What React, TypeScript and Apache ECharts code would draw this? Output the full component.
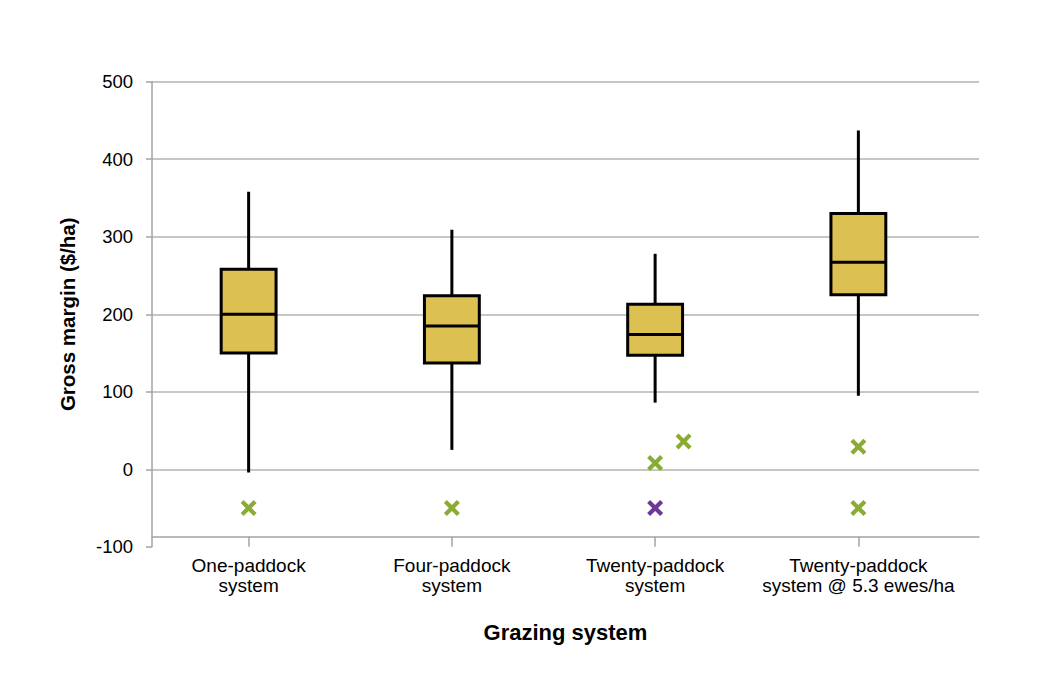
import React, { useEffect, useRef } from "react";
import * as echarts from "echarts";

// ---- data ----
const CATEGORIES = [
  "One-paddock\nsystem",
  "Four-paddock\nsystem",
  "Twenty-paddock\nsystem",
  "Twenty-paddock\nsystem @ 5.3 ewes/ha",
];
const WHISKER_LOW = [-4, 25, 86, 95];
const Q1 = [150, 137, 147, 225];
const MEDIAN = [200, 185, 174, 267];
const Q3 = [258, 224, 213, 330];
const WHISKER_HIGH = [358, 309, 278, 437];
// [category position, value]
const GREEN_OUTLIERS = [
  [0, -50],
  [1, -50],
  [2, 8],
  [2.14, 36],
  [3, 29],
  [3, -50],
];
const PURPLE_OUTLIERS = [[2, -50]];
const Y_MIN = -100;
const Y_MAX = 500;
const Y_STEP = 100;

const X_AXIS_TITLE = "Grazing system";
const Y_AXIS_TITLE = "Gross margin ($/ha)";

// ---- styles ----
const FONT = "'Liberation Sans', Arial, Helvetica, sans-serif";
const AXIS_GRAY = "#a3a3a3";
const GRID_GRAY = "#b3b3b3";
const BOX_FILL = "#dcc152";
const GREEN = "#8aab35";
const PURPLE = "#6b3a96";
const X_SYMBOL =
  "path://M0,2.6 L2.6,0 L7,4.4 L11.4,0 L14,2.6 L9.6,7 L14,11.4 L11.4,14 L7,9.6 L2.6,14 L0,11.4 L4.4,7 Z";

export default function App() {
  const ref = useRef<HTMLDivElement>(null);

  useEffect(() => {
    if (!ref.current) return;
    const chart = echarts.init(ref.current, null, { renderer: "svg" });
    const boxData = CATEGORIES.map((_, i) => [
      i,
      WHISKER_LOW[i],
      Q1[i],
      MEDIAN[i],
      Q3[i],
      WHISKER_HIGH[i],
    ]);

    const gridCommon = {
      top: 81.7,
      bottom: 136.2,
      containLabel: false,
      outerBoundsMode: "none",
    };

    const option: any = {
      animation: false,
      backgroundColor: "#ffffff",
      grid: [
        { ...gridCommon, left: 152, right: 61 },
        { ...gridCommon, left: 147, right: 80 },
      ],
      xAxis: [
        {
          gridIndex: 0,
          type: "value",
          min: 0,
          max: 1,
          offset: -10,
          axisLine: {
            show: true,
            onZero: false,
            lineStyle: { color: AXIS_GRAY, width: 1.5 },
          },
          axisTick: { show: false },
          axisLabel: { show: false },
          splitLine: { show: false },
          name: X_AXIS_TITLE,
          nameLocation: "middle",
          nameGap: 85,
          nameTextStyle: {
            fontFamily: FONT,
            fontSize: 22,
            fontWeight: "bold",
            color: "#000",
          },
        },
        {
          gridIndex: 1,
          type: "category",
          data: CATEGORIES,
          offset: -10,
          axisLine: { show: false, onZero: false },
          axisTick: {
            show: true,
            alignWithLabel: true,
            length: 10,
            lineStyle: { color: AXIS_GRAY, width: 1.5 },
          },
          axisLabel: {
            interval: 0,
            margin: 19,
            fontFamily: FONT,
            fontSize: 19,
            lineHeight: 20,
            color: "#000",
          },
          splitLine: { show: false },
        },
        {
          gridIndex: 1,
          type: "value",
          position: "top",
          min: -0.5,
          max: 3.5,
          show: false,
        },
      ],
      yAxis: [
        {
          gridIndex: 0,
          type: "value",
          min: Y_MIN,
          max: Y_MAX,
          interval: Y_STEP,
          axisLine: {
            show: true,
            onZero: false,
            lineStyle: { color: AXIS_GRAY, width: 1.5 },
          },
          axisTick: {
            show: true,
            length: 6,
            lineStyle: { color: AXIS_GRAY, width: 1.5 },
          },
          axisLabel: {
            margin: 19,
            fontFamily: FONT,
            fontSize: 18.5,
            color: "#000",
          },
          splitLine: {
            show: true,
            showMinLine: false,
            lineStyle: { color: GRID_GRAY, width: 1.5 },
          },
          name: Y_AXIS_TITLE,
          nameLocation: "middle",
          nameRotate: 90,
          nameGap: 74,
          nameTextStyle: {
            fontFamily: FONT,
            fontSize: 20.5,
            fontWeight: "bold",
            color: "#000",
          },
        },
        {
          gridIndex: 1,
          type: "value",
          min: Y_MIN,
          max: Y_MAX,
          interval: Y_STEP,
          show: false,
        },
      ],
      series: [
        {
          type: "custom",
          xAxisIndex: 1,
          yAxisIndex: 1,
          z: 5,
          data: boxData,
          encode: { x: 0, y: [1, 2, 3, 4, 5] },
          renderItem: (params: any, api: any) => {
            const idx = api.value(0);
            const lo = api.coord([idx, api.value(1)]);
            const q1 = api.coord([idx, api.value(2)]);
            const med = api.coord([idx, api.value(3)]);
            const q3 = api.coord([idx, api.value(4)]);
            const hi = api.coord([idx, api.value(5)]);
            const bw = api.size([1, 0])[0] * 0.27;
            const x = q1[0];
            return {
              type: "group",
              children: [
                {
                  type: "line",
                  shape: { x1: x, y1: hi[1], x2: x, y2: lo[1] },
                  style: { stroke: "#000", lineWidth: 3 },
                },
                {
                  type: "rect",
                  shape: {
                    x: x - bw / 2,
                    y: q3[1],
                    width: bw,
                    height: q1[1] - q3[1],
                  },
                  style: { fill: BOX_FILL, stroke: "#000", lineWidth: 3 },
                },
                {
                  type: "line",
                  shape: { x1: x - bw / 2, y1: med[1], x2: x + bw / 2, y2: med[1] },
                  style: { stroke: "#000", lineWidth: 3 },
                },
              ],
            };
          },
        },
        {
          type: "scatter",
          xAxisIndex: 2,
          yAxisIndex: 1,
          z: 6,
          symbol: X_SYMBOL,
          symbolSize: 16,
          itemStyle: { color: GREEN, opacity: 1 },
          data: GREEN_OUTLIERS,
        },
        {
          type: "scatter",
          xAxisIndex: 2,
          yAxisIndex: 1,
          z: 6,
          symbol: X_SYMBOL,
          symbolSize: 16,
          itemStyle: { color: PURPLE, opacity: 1 },
          data: PURPLE_OUTLIERS,
        },
      ],
    };

    chart.setOption(option);
    return () => chart.dispose();
  }, []);

  return (
    <div
      ref={ref}
      style={{
        position: "fixed",
        left: 0,
        top: 0,
        width: 1040,
        height: 683,
        background: "#fff",
      }}
    />
  );
}
